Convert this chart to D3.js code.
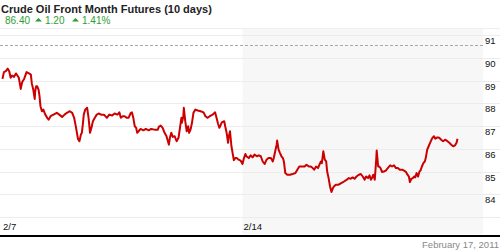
<!DOCTYPE html>
<html>
<head>
<meta charset="utf-8">
<script src="https://cdn.jsdelivr.net/npm/d3@7"></script>
<style>
  body { margin: 0; background: #fff; }
  svg { display: block; font-family: "Liberation Sans", Arial, sans-serif; }
</style>
</head>
<body>
<svg id="chart" width="500" height="250"></svg>
<script>
const title = "Crude Oil Front Month Futures (10 days)";
const lastPrice = "86.40";
const change = "1.20";
const changePct = "1.41%";
const dateLabel = "February 17, 2011";

// y grid levels and labels
const gridLevels = [83, 84, 85, 86, 87, 88, 89, 90, 91];
const yLabels = [84, 85, 86, 87, 88, 89, 90, 91];
const refLevel = 90.56;

// x ticks, in trading days since 2/7
const xTicks = [0, 5];
const xTickLabels = ["2/7", "2/14"];
const shadeDays = [5, 10];

// [trading day, price]
const points = [
  [0.01,89.07],[0.04,89.37],[0.08,89.41],[0.12,89.52],[0.15,89.41],[0.18,89.12],[0.21,89.22],[0.25,89.16],[0.29,89.31],[0.32,89.22],[0.35,89.12],[0.39,88.63],[0.42,88.93],[0.46,89.07],[0.51,89.37],[0.56,89.31],[0.60,89.26],[0.62,88.87],[0.65,88.60],[0.68,88.19],[0.69,88.53],[0.71,88.75],[0.73,88.75],[0.76,88.60],[0.78,88.31],[0.80,87.87],[0.83,87.65],[0.86,87.72],[0.90,87.50],[0.94,87.36],[0.97,87.28],[1.01,87.43],[1.07,87.50],[1.14,87.58],[1.19,87.50],[1.25,87.40],[1.30,87.50],[1.35,87.58],[1.41,87.65],[1.46,87.58],[1.50,87.36],[1.54,86.92],
  [1.58,86.43],[1.61,86.33],[1.64,86.62],[1.66,86.70],[1.68,87.06],[1.70,87.50],[1.73,87.72],[1.77,87.80],[1.80,87.36],[1.83,86.70],[1.86,86.92],[1.89,87.21],[1.93,87.36],[1.97,87.50],[2.01,87.55],[2.06,87.50],[2.12,87.50],[2.18,87.36],[2.23,87.50],[2.29,87.46],[2.34,87.55],[2.40,87.50],[2.44,87.60],[2.47,87.36],[2.51,87.43],[2.55,87.43],[2.59,87.36],[2.63,87.36],[2.68,87.58],[2.70,87.60],[2.73,87.36],[2.76,86.99],[2.79,86.92],[2.81,86.70],[2.84,86.77],[2.88,86.87],[2.94,86.81],[2.99,86.87],[3.05,86.81],[3.10,86.87],[3.17,86.84],[3.24,86.84],
  [3.26,86.96],[3.30,87.02],[3.34,86.92],[3.38,86.70],[3.42,86.55],[3.47,86.18],[3.49,86.48],[3.52,86.70],[3.55,86.52],[3.59,86.55],[3.63,86.33],[3.67,86.48],[3.70,86.92],[3.73,87.36],[3.74,87.14],[3.77,87.43],[3.78,87.80],[3.81,87.21],[3.84,86.77],[3.87,86.99],[3.89,86.70],[3.92,86.84],[3.95,87.14],[3.98,87.58],[4.02,87.72],[4.07,87.68],[4.13,87.65],[4.19,87.60],[4.23,87.43],[4.27,87.36],[4.32,87.43],[4.38,87.50],[4.43,87.60],[4.46,87.36],[4.49,87.11],[4.52,86.92],[4.55,87.06],[4.57,87.16],[4.62,87.21],[4.64,86.99],[4.67,86.70],[4.70,86.26],[4.71,86.48],[4.74,86.77],[4.77,86.11],[4.80,85.74],[4.82,85.50],[4.85,85.59],
  [4.88,85.59],[4.92,85.52],[4.96,85.48],[5.00,85.33],[5.03,85.59],[5.06,85.77],[5.08,85.67],[5.13,85.59],[5.17,85.71],[5.21,85.62],[5.25,85.74],[5.30,85.67],[5.34,85.71],[5.38,85.67],[5.42,85.44],[5.46,85.33],[5.50,85.52],[5.54,85.59],[5.59,85.59],[5.63,85.44],[5.65,85.59],[5.68,85.89],[5.71,86.18],[5.72,86.36],[5.75,85.96],[5.78,85.81],[5.81,85.67],[5.84,85.59],[5.86,85.44],[5.89,84.93],[5.93,84.86],[5.99,84.86],[6.04,84.89],[6.10,84.93],[6.14,85.08],[6.18,85.22],[6.24,85.22],[6.29,85.22],[6.33,85.30],[6.38,85.22],[6.42,85.22],[6.46,85.15],
  [6.49,85.08],[6.53,85.22],[6.57,85.15],[6.60,85.30],[6.63,85.44],[6.65,85.37],[6.68,85.89],[6.71,85.52],[6.74,85.44],[6.76,85.00],[6.79,84.71],[6.82,84.34],[6.85,84.10],[6.88,84.27],[6.90,84.34],[6.94,84.42],[7.00,84.42],[7.05,84.49],[7.11,84.56],[7.17,84.64],[7.21,84.71],[7.25,84.68],[7.29,84.74],[7.33,84.68],[7.37,84.78],[7.42,84.86],[7.46,84.89],[7.50,84.78],[7.54,84.64],[7.57,84.78],[7.61,84.71],[7.64,84.83],[7.67,84.64],[7.69,84.71],[7.72,84.86],[7.75,84.64],[7.78,85.52],[7.79,85.92],[7.82,85.22],[7.84,85.22],[7.87,85.15],[7.90,84.98],[7.94,85.00],[7.98,85.04],[8.02,85.15],[8.07,85.27],
  [8.11,85.22],[8.15,85.27],[8.19,85.15],[8.23,85.15],[8.27,85.08],[8.32,85.08],[8.36,85.04],[8.40,84.98],[8.43,84.86],[8.46,84.78],[8.48,84.54],[8.51,84.68],[8.54,84.71],[8.57,84.78],[8.59,84.74],[8.62,84.93],[8.65,84.78],[8.68,85.00],[8.70,85.04],[8.73,85.22],[8.76,85.37],[8.79,85.44],[8.81,85.59],[8.84,85.96],[8.87,86.11],[8.90,86.26],[8.93,86.40],[8.95,86.48],[8.98,86.55],[9.01,86.44],[9.05,86.50],[9.09,86.48],[9.13,86.40],[9.17,86.33],[9.22,86.40],[9.26,86.33],[9.30,86.26],[9.34,86.18],[9.38,86.11],[9.42,86.15],[9.45,86.26],[9.47,86.44]
];

const width = 500;
const plotLeft = 2, plotRight = 483;
const plotTop = 28, plotBottom = 234;

const x = d3.scaleLinear().domain([0, 10]).range([plotLeft, plotRight]);
const y = d3.scaleLinear().domain([83, 91]).range([217, 35]);

const svg = d3.select("#chart");

// header
svg.append("text")
  .attr("x", 1).attr("y", 13)
  .attr("font-size", "11px").attr("font-weight", "bold")
  .attr("fill", "#222")
  .text(title);

const green = "#2f9e2f";
const header = svg.append("g").attr("fill", green).attr("font-size", "10px");
header.append("text").attr("x", 5).attr("y", 24).text(lastPrice);
header.append("path").attr("d", "M35,21.5 L38.5,18 L42,21.5 Z");
header.append("text").attr("x", 45).attr("y", 24).text(change);
header.append("path").attr("d", "M72,21.5 L75.5,18 L79,21.5 Z");
header.append("text").attr("x", 82).attr("y", 24).text(changePct);

// chart frame top line
svg.append("line")
  .attr("x1", 0).attr("x2", width)
  .attr("y1", plotTop + 0.5).attr("y2", plotTop + 0.5)
  .attr("stroke", "#eeeeee");

// shaded second week
svg.append("rect")
  .attr("x", x(shadeDays[0])).attr("y", plotTop + 1)
  .attr("width", x(shadeDays[1]) - x(shadeDays[0]))
  .attr("height", plotBottom - plotTop - 1)
  .attr("fill", "#f7f7f7");

// gridlines
svg.append("g").selectAll("line")
  .data(gridLevels)
  .enter()
  .append("line")
  .attr("x1", 0).attr("x2", width)
  .attr("y1", d => Math.round(y(d)) + 0.5)
  .attr("y2", d => Math.round(y(d)) + 0.5)
  .attr("stroke", "#ececec");

// dashed reference line
svg.append("line")
  .attr("x1", 0).attr("x2", plotRight)
  .attr("y1", Math.round(y(refLevel)) + 0.5)
  .attr("y2", Math.round(y(refLevel)) + 0.5)
  .attr("stroke", "#a8a8a8")
  .attr("stroke-dasharray", "3,2");

// y labels
svg.append("g").selectAll("text")
  .data(yLabels)
  .enter()
  .append("text")
  .attr("x", 485)
  .attr("y", d => y(d) + 9)
  .attr("font-size", "9.5px")
  .attr("fill", "#111")
  .text(d => d);

// price line
const line = d3.line()
  .x(d => x(d[0]))
  .y(d => y(d[1]));

svg.append("path")
  .datum(points)
  .attr("fill", "none")
  .attr("stroke", "#cc0000")
  .attr("stroke-width", 2)
  .attr("stroke-linejoin", "round")
  .attr("d", line);

// x labels
svg.append("g").selectAll("text")
  .data(xTicks)
  .enter()
  .append("text")
  .attr("x", d => x(d) + 1)
  .attr("y", 230)
  .attr("font-size", "9.5px")
  .attr("fill", "#111")
  .text((d, i) => xTickLabels[i]);

// bottom rule
svg.append("line")
  .attr("x1", 0).attr("x2", width)
  .attr("y1", 236).attr("y2", 236)
  .attr("stroke", "#000")
  .attr("stroke-width", 2);

svg.append("text")
  .attr("x", 499).attr("y", 248)
  .attr("text-anchor", "end")
  .attr("font-size", "9.5px")
  .attr("fill", "#888")
  .text(dateLabel);
</script>
</body>
</html>
